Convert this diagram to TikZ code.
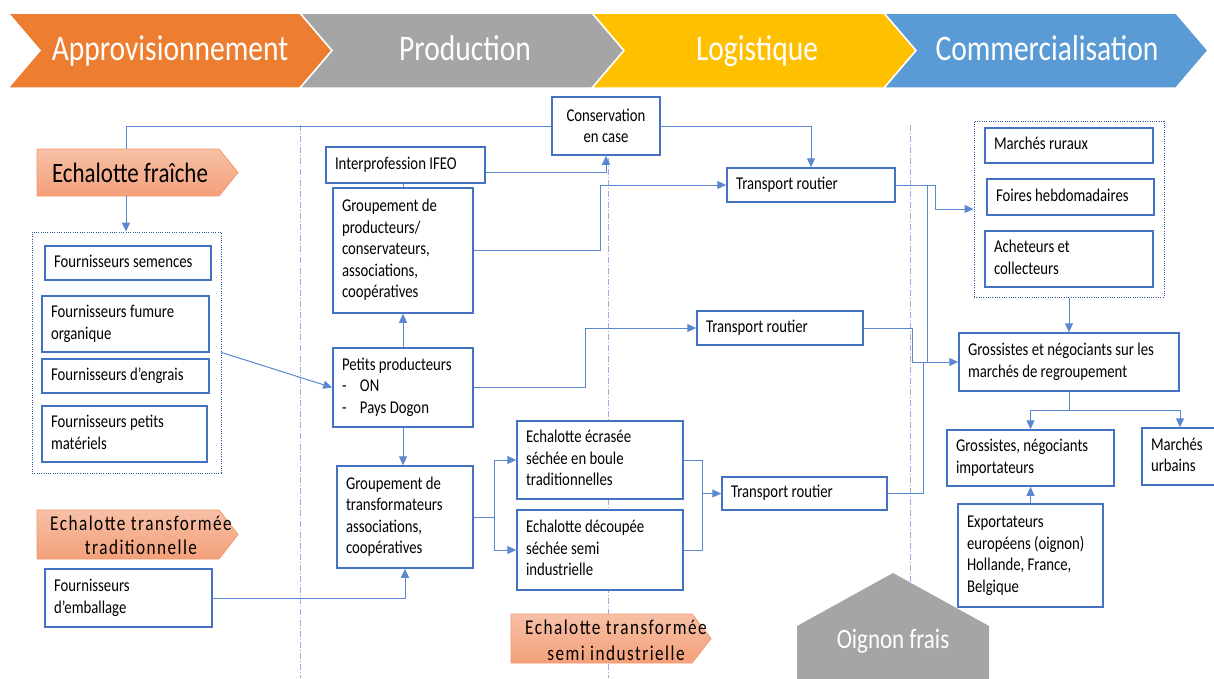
\documentclass[tikz,border=0pt]{standalone}
\usepackage{fontspec}
\setmainfont{Carlito}[FakeStretch=0.82]
\usetikzlibrary{arrows.meta}
\definecolor{bxc}{RGB}{68,114,196}
\definecolor{cnc}{RGB}{91,135,208}
\definecolor{sepc}{RGB}{150,175,222}
\definecolor{dotc}{RGB}{47,85,151}
\definecolor{corange}{RGB}{237,125,49}
\definecolor{cgray}{RGB}{165,165,165}
\definecolor{cyellow}{RGB}{255,192,0}
\definecolor{cblue}{RGB}{91,155,213}
\definecolor{lbtop}{RGB}{247,192,166}
\definecolor{lbbot}{RGB}{244,160,122}
\definecolor{lbdraw}{RGB}{242,152,108}
\newcommand\tl[1]{\spaceskip=0pt\xspaceskip=0pt\begin{tabular}{@{}l@{}}#1\end{tabular}}
\newcommand\mybox[6]{%
 \pgfmathsetmacro\bcx{(#2+#4)/2}\pgfmathsetmacro\bcy{(#3+#5)/2}%
 \pgfmathsetmacro\bw{#4-#2}\pgfmathsetmacro\bh{#5-#3}\pgfmathsetmacro\btw{#4-#2-18}%
 \node[bx,minimum width=\bw pt,minimum height=\bh pt,text width=\btw pt] (#1) at (\bcx,\bcy) {\tl{#6}};}
\tikzset{
 bx/.style={draw=bxc, line width=1.5pt, fill=white, font=\fontsize{18}{21.5}\selectfont, inner xsep=9pt, inner ysep=2pt, align=left},
 cn/.style={draw=cnc, line width=1pt},
 ar/.style={cn, -{Triangle[length=9pt,width=8pt]}},
 sepl/.style={draw=sepc, line width=1pt, dash pattern=on 6pt off 2pt on 1pt off 2pt},
 grp/.style={draw=dotc, line width=1pt, dash pattern=on 1pt off 1.3pt, inner sep=0pt},
 chev/.style={draw=white, line width=1.5pt},
 btxt/.style={text=white, font=\fontsize{36}{40}\selectfont, anchor=base},
 lab/.style={top color=lbtop, bottom color=lbbot, draw=lbdraw, line width=0.8pt},
 labtxt/.style={font=\fontsize{21}{24}\selectfont\addfontfeature{LetterSpace=7}, align=center},
}
\begin{document}
\begin{tikzpicture}[x=1pt,y=-1pt]
\useasboundingbox (0,0) rectangle (1214,678);
% banner
\path[chev, fill=corange] (8,13) -- (300,13) -- (332,50.5) -- (300,88) -- (8,88) -- (40,50.5) -- cycle;
\path[chev, fill=cgray] (300,13) -- (592,13) -- (624,50.5) -- (592,88) -- (300,88) -- (332,50.5) -- cycle;
\path[chev, fill=cyellow] (592,13) -- (884,13) -- (916,50.5) -- (884,88) -- (592,88) -- (624,50.5) -- cycle;
\path[chev, fill=cblue] (884,13) -- (1176,13) -- (1208,50.5) -- (1176,88) -- (884,88) -- (916,50.5) -- cycle;
\node[btxt] (b1) at (170,60) {Approvisionnement};
\node[btxt] (b2) at (465,60) {Production};
\node[btxt] (b3) at (757,60) {Logistique};
\node[btxt] (b4) at (1047,60) {Commercialisation};
% separators
\draw[sepl] (300,125) -- (300,678);
\draw[sepl] (608,125) -- (608,678);
\draw[sepl] (910,125) -- (910,640);
% labels
\path[lab] (37,149) -- (219,149) -- (238,172.5) -- (219,196) -- (37,196) -- cycle;
\node[font=\fontsize{28}{30}\selectfont, anchor=base] (ef) at (130,182) {Echalotte fraîche};
\coordinate (efT) at (126,149);
\coordinate (efB) at (126,196);
\path[lab] (37,510) -- (219,510) -- (238,534.5) -- (219,559) -- (37,559) -- cycle;
\node[labtxt] (et) at (141,535) {Echalotte transformée\\traditionnelle};
\path[lab] (511,614) -- (692,614) -- (711,638.5) -- (692,663) -- (511,663) -- cycle;
\node[labtxt, font=\fontsize{21}{26}\selectfont\addfontfeature{LetterSpace=7}] (es) at (616,640) {Echalotte transformée\\semi industrielle};
% oignon
\path[fill=cgray] (797,680) -- (797,626) -- (893,573) -- (989,626) -- (989,680) -- cycle;
\node[text=white, font=\fontsize{28}{30}\selectfont, anchor=base] (oi) at (893,648) {Oignon frais};
% groups
\node[grp, minimum width=189pt, minimum height=241pt] (grpL) at (126.5,352.5) {};
\node[grp, minimum width=190pt, minimum height=176pt] (grpR) at (1069,209) {};
% boxes
\mybox{fs}{45}{246}{211}{280}{Fournisseurs semences}
\mybox{ff}{42}{296}{209}{352}{Fournisseurs fumure\\organique}
\mybox{fe}{42}{359}{209}{393}{Fournisseurs d’engrais}
\mybox{fp}{42}{406}{207}{462}{Fournisseurs petits\\matériels}
\mybox{emb}{45}{569}{212}{627}{Fournisseurs\\d’emballage}
\node[bx, minimum width=108pt, minimum height=58pt, align=center] (cons) at (606,126) {Conservation\\en case};
\mybox{ifeo}{326}{147}{485}{183}{Interprofession IFEO}
\mybox{gp}{333}{188}{473}{313}{Groupement de\\producteurs/\\conservateurs,\\associations,\\coopératives}
\mybox{pp}{333}{348}{473}{427}{Petits producteurs\\\makebox[18pt][l]{-}ON\\\makebox[18pt][l]{-}Pays Dogon}
\mybox{gt}{337}{466}{473}{568}{Groupement de\\transformateurs\\associations,\\coopératives}
\mybox{ec}{517}{421}{683}{499}{Echalotte écrasée\\séchée en boule\\traditionnelles}
\mybox{dc}{517}{510}{683}{590}{Echalotte découpée\\séchée semi\\industrielle}
\mybox{tr1}{727}{168}{895}{202}{Transport routier}
\mybox{tr2}{697}{311}{863}{345}{Transport routier}
\mybox{tr3}{722}{477}{887}{510}{Transport routier}
\mybox{mr}{985}{128}{1153}{163}{Marchés ruraux}
\mybox{fh}{987}{179}{1154}{215}{Foires hebdomadaires}
\mybox{ac}{985}{231}{1153}{287}{Acheteurs et\\collecteurs}
\mybox{gr}{959}{333}{1179}{391}{Grossistes et négociants sur les\\marchés de regroupement}
\mybox{gi}{947}{430}{1114}{486}{Grossistes, négociants\\importateurs}
\mybox{mu}{1142}{428}{1218}{485}{Marchés\\urbains}
\mybox{ex}{958}{504}{1103}{607}{Exportateurs\\européens (oignon)\\Hollande, France,\\Belgique}
% connectors
\draw[cn] (efT) |- (cons.west);
\draw[ar] (efB) -- (efB |- grpL.north);
\draw[ar] (grpL.east) -- (pp.west);
\draw[ar] (emb.east) -| (gt.south);
\draw[ar] (cons.east) -| (tr1.north);
\draw[ar] ([yshift=-7pt]ifeo.east) -| (cons.south);
\draw[cn] (gp.north) -- (gp.north |- ifeo.south);
\draw[ar] (gp.east) -- ++(127,0) |- (tr1.west);
\draw[ar] (pp.north) -- (gp.south);
\draw[ar] (pp.east) -- ++(112,0) |- (tr2.west);
\draw[ar] (pp.south) -- (pp.south |- gt.north);
\draw[ar] (gt.east) -- ++(21,0) |- (ec.west);
\draw[ar] (gt.east) -- ++(21,0) |- (dc.west);
\draw[cn] (ec.east) -- ++(19,0) |- (dc.east);
\coordinate (j2) at (702,494);
\draw[ar] (j2 |- tr3.west) -- (tr3.west);
\draw[ar] (tr1.east) -- ++(40,0) |- (grpR.west);
\coordinate (jx) at (927,362);
\draw[ar] (tr1.east) -| (jx) -- (gr.west);
\draw[cn] (tr2.east) -| ([xshift=-15pt]jx) -- (jx);
\draw[cn] (tr3.east) -| ([xshift=-4pt]jx);
\draw[ar] (grpR.south) -- (gr.north);
\coordinate (jy) at (1069,410);
\draw[ar] (gr.south) -- (jy) -| (gi.north);
\draw[ar] (jy) -| (mu.north);
\draw[ar] (ex.north) -- (gi.south);
\end{tikzpicture}
\end{document}
